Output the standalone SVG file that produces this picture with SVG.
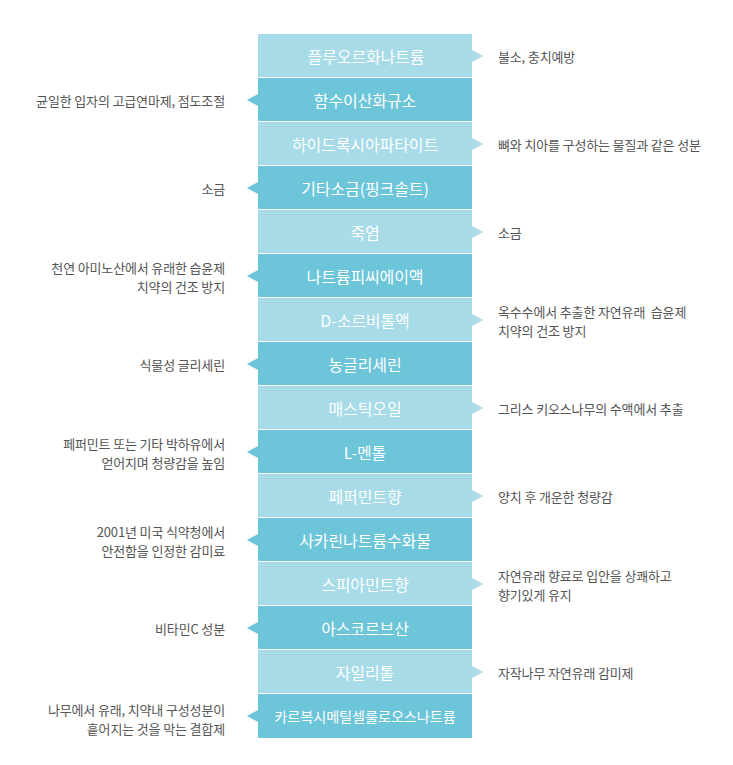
<svg xmlns="http://www.w3.org/2000/svg" width="733" height="765" viewBox="0 0 733 765">
<style>
.lt{fill:#a6dbe7}
.dk{fill:#6dc5d9}
.bt{font-family:"Noto Sans CJK KR","Noto Sans",sans-serif;font-size:16px;fill:#fff;text-anchor:middle;dominant-baseline:central;letter-spacing:-0.1px}
.lb{font-family:"Noto Sans CJK KR","Noto Sans",sans-serif;font-size:13px;fill:#555;dominant-baseline:central;letter-spacing:-0.15px}
.l{text-anchor:end}
.r{text-anchor:start}
</style>
<rect width="733" height="765" fill="#fff"/>
<g id="connectors">
<polygon class="lt" points="472,50 483,56 472,62"/>
<polygon class="dk" points="258,94 247,100 258,106"/>
<polygon class="lt" points="472,138 483,144 472,150"/>
<polygon class="dk" points="258,182 247,188 258,194"/>
<polygon class="lt" points="472,226 483,232 472,238"/>
<polygon class="dk" points="258,270 247,276 258,282"/>
<polygon class="lt" points="472,314 483,320 472,326"/>
<polygon class="dk" points="258,358 247,364 258,370"/>
<polygon class="lt" points="472,402 483,408 472,414"/>
<polygon class="dk" points="258,446 247,452 258,458"/>
<polygon class="lt" points="472,490 483,496 472,502"/>
<polygon class="dk" points="258,534 247,540 258,546"/>
<polygon class="lt" points="472,578 483,584 472,590"/>
<polygon class="dk" points="258,622 247,628 258,634"/>
<polygon class="lt" points="472,666 483,672 472,678"/>
<polygon class="dk" points="258,710 247,716 258,722"/>
</g>
<g id="n1"><rect class="lt" x="258" y="34" width="214" height="43"/><text class="bt" x="366" y="56">플루오르화나트륨</text><text class="lb r" x="498" y="56">불소, 충치예방</text></g>
<g id="n2"><rect class="dk" x="258" y="78" width="214" height="43"/><text class="bt" x="365" y="100">함수이산화규소</text><text class="lb l" x="225" y="100">균일한 입자의 고급연마제, 점도조절</text></g>
<g id="n3"><rect class="lt" x="258" y="122" width="214" height="43"/><text class="bt" x="365" y="144">하이드록시아파타이트</text><text class="lb r" x="498" y="144">뼈와 치아를 구성하는 물질과 같은 성분</text></g>
<g id="n4"><rect class="dk" x="258" y="166" width="214" height="43"/><text class="bt" x="365" y="188">기타소금(핑크솔트)</text><text class="lb l" x="225" y="188">소금</text></g>
<g id="n5"><rect class="lt" x="258" y="210" width="214" height="43"/><text class="bt" x="365" y="232">죽염</text><text class="lb r" x="498" y="232">소금</text></g>
<g id="n6"><rect class="dk" x="258" y="254" width="214" height="43"/><text class="bt" x="365" y="276">나트륨피씨에이액</text><text class="lb l" y="266.5"><tspan x="225">천연 아미노산에서 유래한 습윤제</tspan><tspan x="225" dy="19">치약의 건조 방지</tspan></text></g>
<g id="n7"><rect class="lt" x="258" y="298" width="214" height="43"/><text class="bt" x="365" y="320">D-소르비톨액</text><text class="lb r" y="310.5" xml:space="preserve"><tspan x="498">옥수수에서 추출한 자연유래  습윤제</tspan><tspan x="498" dy="19">치약의 건조 방지</tspan></text></g>
<g id="n8"><rect class="dk" x="258" y="342" width="214" height="43"/><text class="bt" x="365" y="364">농글리세린</text><text class="lb l" x="225" y="364">식물성 글리세린</text></g>
<g id="n9"><rect class="lt" x="258" y="386" width="214" height="43"/><text class="bt" x="365" y="408">매스틱오일</text><text class="lb r" x="498" y="408">그리스 키오스나무의 수액에서 추출</text></g>
<g id="n10"><rect class="dk" x="258" y="430" width="214" height="43"/><text class="bt" x="365" y="452">L-멘톨</text><text class="lb l" y="442.5"><tspan x="225">페퍼민트 또는 기타 박하유에서</tspan><tspan x="225" dy="19">얻어지며 청량감을 높임</tspan></text></g>
<g id="n11"><rect class="lt" x="258" y="474" width="214" height="43"/><text class="bt" x="365" y="496">페퍼민트향</text><text class="lb r" x="498" y="496">양치 후 개운한 청량감</text></g>
<g id="n12"><rect class="dk" x="258" y="518" width="214" height="43"/><text class="bt" x="365" y="540">사카린나트륨수화물</text><text class="lb l" y="530.5"><tspan x="225">2001년 미국 식약청에서</tspan><tspan x="225" dy="19">안전함을 인정한 감미료</tspan></text></g>
<g id="n13"><rect class="lt" x="258" y="562" width="214" height="43"/><text class="bt" x="365" y="584">스피아민트향</text><text class="lb r" y="574.5"><tspan x="498">자연유래 향료로 입안을 상쾌하고</tspan><tspan x="498" dy="19">향기있게 유지</tspan></text></g>
<g id="n14"><rect class="dk" x="258" y="606" width="214" height="43"/><text class="bt" x="365" y="628">아스코르브산</text><text class="lb l" x="225" y="628">비타민C 성분</text></g>
<g id="n15"><rect class="lt" x="258" y="650" width="214" height="43"/><text class="bt" x="365" y="672">자일리톨</text><text class="lb r" x="498" y="672">자작나무 자연유래 감미제</text></g>
<g id="n16"><rect class="dk" x="258" y="694" width="214" height="44"/><text class="bt" x="365" y="716" style="font-size:14.2px">카르복시메틸셀룰로오스나트륨</text><text class="lb l" y="708.5"><tspan x="225">나무에서 유래, 치약내 구성성분이</tspan><tspan x="225" dy="19">흩어지는 것을 막는 결합제</tspan></text></g>
</svg>
